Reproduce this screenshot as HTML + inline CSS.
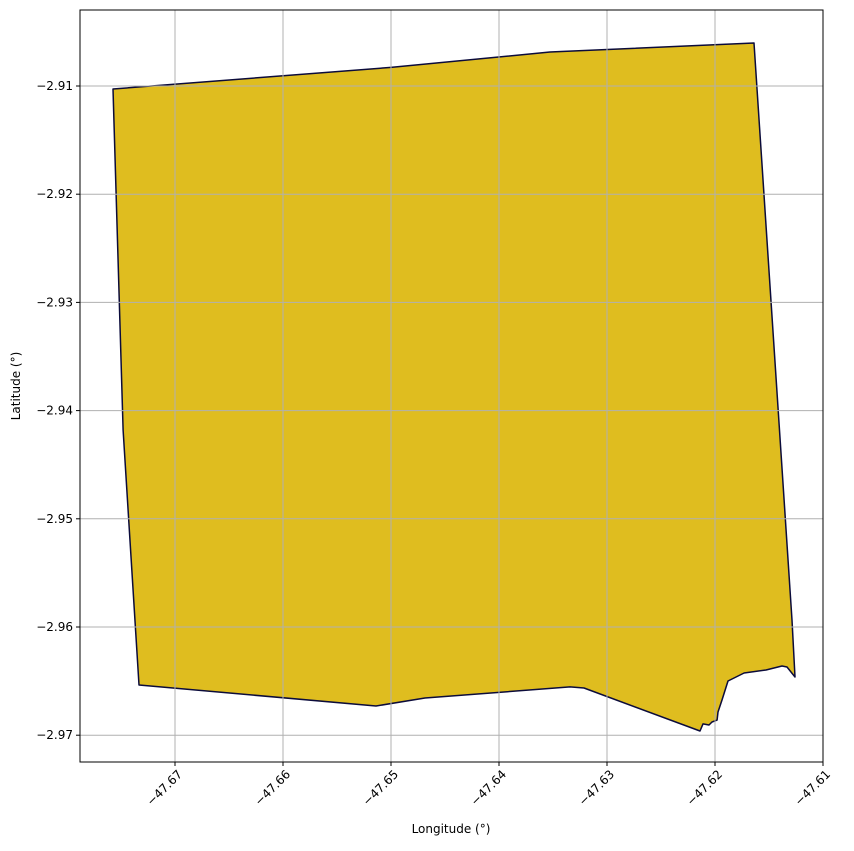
<!DOCTYPE html>
<html><head><meta charset="utf-8"><style>
body{margin:0;background:#fff}
svg text{font-family:"DejaVu Sans","Liberation Sans",sans-serif;font-size:12px;fill:#000}
</style></head><body>
<svg id="chart" width="854" height="846" xmlns="http://www.w3.org/2000/svg"></svg>
<script>
const lons=[-47.67574,-47.65,-47.63528,-47.61639,-47.61287,-47.61259,-47.61333,-47.61380,-47.61528,-47.61731,-47.61880,-47.61935,-47.61972,-47.61981,-47.62028,-47.62056,-47.62111,-47.62139,-47.63213,-47.63343,-47.64685,-47.65139,-47.67333,-47.67481];
const lats=[-2.91028,-2.90828,-2.90686,-2.90603,-2.95935,-2.96462,-2.96370,-2.96360,-2.96397,-2.96425,-2.96499,-2.96675,-2.96786,-2.96860,-2.96878,-2.96906,-2.96896,-2.96961,-2.96564,-2.96554,-2.96656,-2.96730,-2.96536,-2.94179];
const xTicks=[-47.67,-47.66,-47.65,-47.64,-47.63,-47.62,-47.61];
const yTicks=[-2.91,-2.92,-2.93,-2.94,-2.95,-2.96,-2.97];
const L=80,R=823,T=10,B=762;
const sx=v=>175+(v+47.67)*10800;
const sy=v=>86-(v+2.91)*10820;
const svg=document.getElementById('chart');
const NS='http://www.w3.org/2000/svg';
function mk(tag,attrs,parent){const e=document.createElementNS(NS,tag);for(const k in attrs)e.setAttribute(k,attrs[k]);(parent||svg).appendChild(e);return e;}
const pts=lons.map((v,i)=>sx(v).toFixed(1)+','+sy(lats[i]).toFixed(1)).join(' ');
const poly=mk('polygon',{points:pts,fill:'#dfbd1f',stroke:'#0b0b3b','stroke-width':1.5,'stroke-linejoin':'round'});


xTicks.forEach(t=>{const x=sx(t);
 const g=mk('line',{x1:x,x2:x,y1:T,y2:B,stroke:'#b0b0b0','stroke-width':1});
 
 
 mk('line',{x1:x,x2:x,y1:B,y2:B+4,stroke:'#000'});
 const ax=x+8, ay=B+13;
 const tx=mk('text',{x:ax,y:ay,'text-anchor':'end',transform:`rotate(-45 ${ax} ${ay})`});
 tx.textContent='\u2212'+Math.abs(t).toFixed(2);
 
 
});
yTicks.forEach(t=>{const y=sy(t);
 const g=mk('line',{x1:L,x2:R,y1:y,y2:y,stroke:'#b0b0b0','stroke-width':1});
 
 
 mk('line',{x1:L-4,x2:L,y1:y,y2:y,stroke:'#000'});
 const tx=mk('text',{x:L-7,y:y+4,'text-anchor':'end'});
 tx.textContent='\u2212'+Math.abs(t).toFixed(2);
 
 
});
const fr=mk('rect',{x:L,y:T,width:R-L,height:B-T,fill:'none',stroke:'#000','stroke-width':1});


const xl=mk('text',{x:451,y:833,'text-anchor':'middle'});xl.textContent='Longitude (°)';


const yl=mk('text',{x:20,y:386,'text-anchor':'middle',transform:'rotate(-90 20 386)'});yl.textContent='Latitude (°)';


</script>
</body></html>
